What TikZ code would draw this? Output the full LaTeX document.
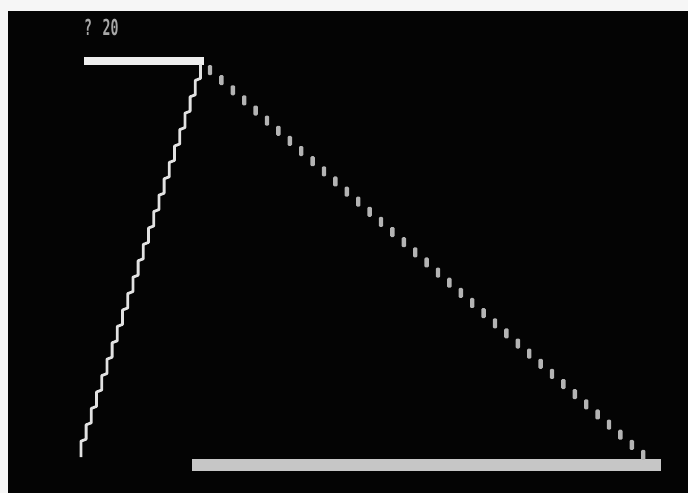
\documentclass[tikz,border=0pt]{standalone}
\usepackage{fontspec}
\newfontfamily\scrfont{DejaVu Sans Mono}
\definecolor{scrbg}{HTML}{040404}
\definecolor{frame}{HTML}{F6F6F6}
\definecolor{topbar}{HTML}{EEEEEE}
\definecolor{botbar}{HTML}{C6C6C6}
\definecolor{dotc}{HTML}{B4B4B4}
\definecolor{linec}{HTML}{E2E2E2}
\definecolor{txtc}{HTML}{A8A8A8}
\tikzset{
  pix/.style={x=1pt,y=-1pt},
  dotbox/.style={fill=dotc, rounded corners=1.2pt},
  stair/.style={draw=linec, line width=2.8pt, line join=bevel},
}
\begin{document}
\begin{tikzpicture}[pix]
\useasboundingbox (0,0) rectangle (688,493);
\fill[frame] (0,0) rectangle (688,493);
\fill[scrbg] (8,11) rectangle (688,493);
% prompt text
\node[anchor=north west, inner sep=0pt, text=txtc, font=\scrfont\bfseries\fontsize{22}{22}\selectfont, xscale=0.6] (prompt) at (84,19) {? 20};
% top bar
\fill[topbar] (84,57) rectangle (204,65);
% bottom bar
\fill[botbar] (192,459) rectangle (661,471);
% left staircase line
\coordinate (stairtop) at (200.5,64);
\draw[stair] (stairtop)
  \foreach \i in {0,...,22} { -- ++(0,14.4) -- ++(-5.2,2) } -- ++(0,16);
% dotted diagonal
\foreach \i in {0,...,38} {
  \pgfmathsetmacro{\cx}{210+\i*11.4}
  \pgfmathsetmacro{\cy}{70+\i*10.13}
  \fill[dotbox] (\cx-2.2,\cy-5) rectangle (\cx+2.2,\cy+5);
}
\end{tikzpicture}
\end{document}
